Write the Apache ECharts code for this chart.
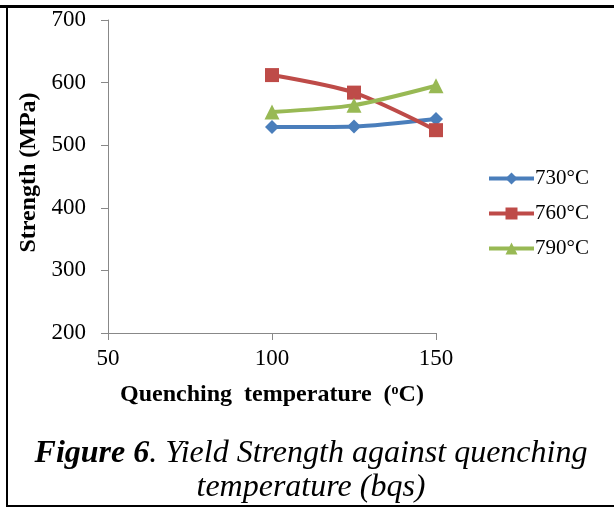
<!DOCTYPE html>
<html>
<head>
<meta charset="utf-8">
<script src="https://cdn.jsdelivr.net/npm/echarts@6/dist/echarts.min.js"></script>
<style>html,body{margin:0;padding:0;background:#fff;}#c{width:614px;height:507px;}</style>
</head>
<body>
<div id="c"></div>
<script>
const xValues = [100, 125, 150];
const seriesNames = ['730°C', '760°C', '790°C'];
const s730 = [529, 530, 542];
const s760 = [612, 584, 524];
const s790 = [553, 564, 595];
const xTicks = [50, 100, 150];
const yTicks = [200, 300, 400, 500, 600, 700];

const F = '"Liberation Serif", "Times New Roman", serif';
const colors = ['#4a7ebb', '#be4b48', '#98b954'];
const symbols = ['diamond', 'rect', 'triangle'];
const symbolSizes = [14, 14, 15];
const allData = [s730, s760, s790];

const chart = echarts.init(document.getElementById('c'), null, {renderer: 'canvas'});
chart.setOption({
  animation: false,
  backgroundColor: '#fff',
  title: {
    text: '{b|Figure 6}{i|. Yield Strength against quenching}\n{i|temperature (bqs)}',
    left: 311, top: 437, textAlign: 'center', padding: 0,
    textStyle: {
      fontWeight: 'normal',
      rich: {
        b: {fontFamily: F, fontSize: 32, fontStyle: 'italic', fontWeight: 'bold', color: '#000', lineHeight: 34},
        i: {fontFamily: F, fontSize: 32, fontStyle: 'italic', fontWeight: 'normal', color: '#000', lineHeight: 34}
      }
    }
  },
  legend: {
    orient: 'vertical', left: 482, top: 163, itemGap: 14, itemWidth: 45, itemHeight: 15,
    data: seriesNames,
    lineStyle: {width: 4},
    textStyle: {fontFamily: F, fontSize: 21, color: '#000', padding: [0, 0, 0, -4]}
  },
  grid: {left: 108, top: 20, width: 328, height: 313, containLabel: false},
  xAxis: {
    type: 'value', min: xTicks[0], max: xTicks[xTicks.length - 1], interval: 50,
    axisLine: {lineStyle: {color: '#888', width: 1}},
    axisTick: {show: true, length: 7, lineStyle: {color: '#888'}},
    splitLine: {show: false},
    axisLabel: {fontFamily: F, fontSize: 23, color: '#000', margin: 14},
    name: '{n|Quenching  temperature  (}{s|o}{n|C)}',
    nameLocation: 'middle', nameGap: 50,
    nameTextStyle: {
      rich: {
        n: {fontFamily: F, fontSize: 24, fontWeight: 'bold', color: '#000'},
        s: {fontFamily: F, fontSize: 14, fontWeight: 'bold', color: '#000', verticalAlign: 'top', padding: [0, 0, 10, 0]}
      }
    }
  },
  yAxis: {
    type: 'value', min: yTicks[0], max: yTicks[yTicks.length - 1], interval: 100,
    axisLine: {show: true, lineStyle: {color: '#888', width: 1}},
    axisTick: {show: true, length: 7, lineStyle: {color: '#888'}},
    splitLine: {show: false},
    axisLabel: {fontFamily: F, fontSize: 23, color: '#000', margin: 22},
    name: 'Strength (MPa)', nameLocation: 'middle', nameGap: 64, nameRotate: 90,
    nameTextStyle: {fontFamily: F, fontSize: 24, fontWeight: 'bold', color: '#000', padding: [0, 0, 0, 8]}
  },
  series: seriesNames.map((n, i) => ({
    name: n, type: 'line', smooth: 0.25,
    data: xValues.map((x, j) => [x, allData[i][j]]),
    symbol: symbols[i], symbolSize: symbolSizes[i], showSymbol: true,
    lineStyle: {color: colors[i], width: 4},
    itemStyle: {color: colors[i]},
    z: 2 + i
  })),
  graphic: [
    {type: 'rect', shape: {x: 0, y: 5, width: 614, height: 3}, style: {fill: '#000'}, silent: true},
    {type: 'rect', shape: {x: 6, y: 5, width: 2, height: 502}, style: {fill: '#000'}, silent: true},
    {type: 'rect', shape: {x: 6, y: 505, width: 608, height: 2}, style: {fill: '#000'}, silent: true}
  ]
});
</script>
</body>
</html>
